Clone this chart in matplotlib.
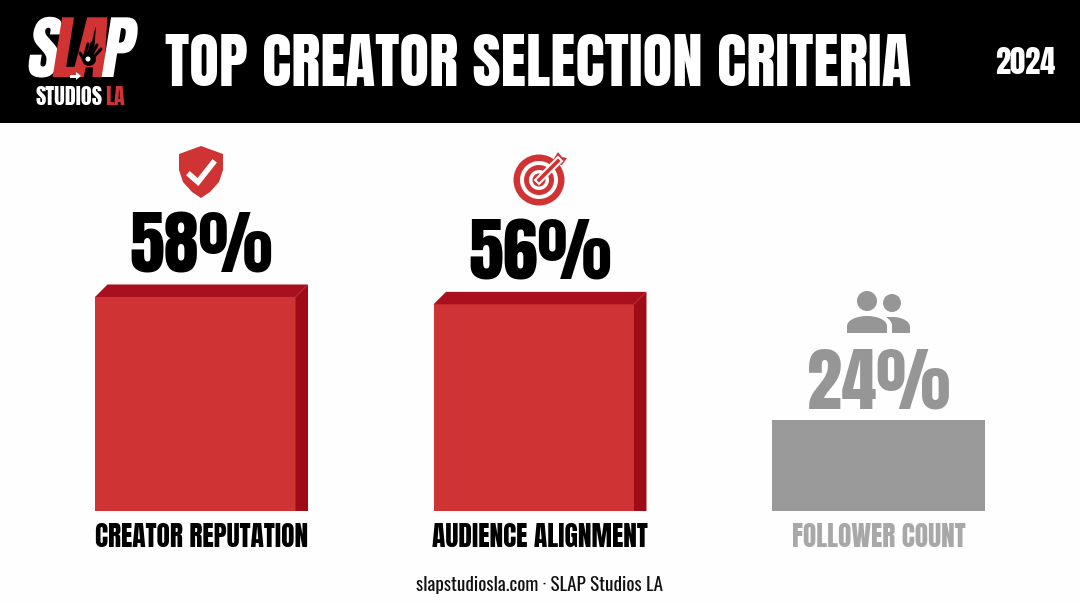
import matplotlib
matplotlib.use('Agg')
import matplotlib.pyplot as plt
import matplotlib.patheffects as pe
from matplotlib.patches import Polygon, Circle, Rectangle, PathPatch
from matplotlib.path import Path
from matplotlib.transforms import Affine2D

# Data
categories = ['CREATOR REPUTATION', 'AUDIENCE ALIGNMENT', 'FOLLOWER COUNT']
labels = ['58%', '56%', '24%']
bar_heights = [58, 56, 24.6]
highlighted = [True, True, False]

RED = '#CF3333'
TOP_RED = '#A90F1E'
SIDE_RED = '#9E0C18'
GREY = '#9A9A9A'
GREY_TEXT = '#A8A8A8'
NUM_GREY = '#969696'
HEAVY = ['Anton', 'DejaVu Sans']
LIGHT = ['Oswald', 'Antonio', 'DejaVu Sans']

W, H = 1080, 603


class Shear(pe.AbstractPathEffect):
    # slant for the logo letters, Anton has no italic
    def draw_path(self, renderer, gc, tpath, affine, rgbFace=None):
        renderer.draw_path(gc, tpath, Affine2D().skew_deg(9, 0) + affine, rgbFace)


fig = plt.figure(figsize=(W / 100, H / 100), dpi=100, facecolor='#FEFEFE')

# Overlay in pixel coordinates for header, icons and footer
bg = fig.add_axes([0, 0, 1, 1])
bg.set_xlim(0, W)
bg.set_ylim(H, 0)
bg.axis('off')

bg.add_patch(Rectangle((0, 0), W, 123, color='black', lw=0))
bg.text(538, 86, 'TOP CREATOR SELECTION CRITERIA', color='white', ha='center', va='baseline',
        fontsize=44, family=HEAVY)
bg.text(1025, 74, '2024', color='white', ha='center', va='baseline', fontsize=22, family=HEAVY)

# Logo
logo = [('S', 25, 'white'), ('L', 50, RED), ('A', 71, RED), ('P', 99, 'white')]
for ch, x, col in logo:
    bg.text(x, 77, ch, color=col, ha='left', va='baseline', fontsize=50, family=HEAVY,
            path_effects=[Shear()])
bg.add_patch(Polygon([[70, 75], [76, 75], [76, 72], [81, 76], [76, 80], [76, 78], [70, 78]],
                     color='white', lw=0, zorder=5))
# hand on the logo
bg.add_patch(Circle((89, 59), 7, color='black', lw=0, zorder=5))
for x0, y0, x1, y1 in [(84, 58, 88, 44), (88, 56, 92, 43), (91, 56, 97, 45), (93, 58, 101, 49), (84, 60, 80, 53)]:
    bg.plot([x0, x1], [y0, y1], color='black', lw=2.2, solid_capstyle='round', zorder=5)
bg.add_patch(Circle((88, 59), 2.5, color='white', lw=0, zorder=6))
bg.text(36, 105, 'STUDIOS', color='white', ha='left', va='baseline', fontsize=16, family=HEAVY)
bg.text(105, 105, 'LA', color=RED, ha='left', va='baseline', fontsize=16, family=HEAVY)

# Shield icon
bg.add_patch(Polygon([[201, 146], [223, 154], [223, 170], [219, 182], [210, 192], [201, 198],
                      [192, 192], [183, 182], [179, 170], [179, 154]], color=RED, lw=0))
bg.plot([190, 198, 213], [175, 182, 163], color='white', lw=4, solid_joinstyle='miter')

# Target icon
for r, col in [(25.5, RED), (19, 'white'), (15, RED), (10, 'white'), (6.5, RED)]:
    bg.add_patch(Circle((539, 180), r, color=col, lw=0))
bg.plot([539, 558], [180, 161], color='white', lw=5.5)
bg.plot([539, 558], [180, 161], color=RED, lw=2.6)
bg.add_patch(Polygon([[553, 160], [558, 152], [562, 157], [567, 158], [562, 165], [555, 164]], color=RED, lw=0))

# People icon
bg.add_patch(Circle((867, 301), 10, color=NUM_GREY, lw=0))
bg.add_patch(Circle((892, 303), 9, color=NUM_GREY, lw=0))
C, L, M = Path.CURVE4, Path.LINETO, Path.MOVETO
big = Path([(847, 333), (847, 326), (847, 320), (857, 316), (867, 316), (877, 316), (887, 320), (887, 326),
            (887, 333), (847, 333)], [M, L, C, C, C, C, C, C, L, L])
small = Path([(892, 333), (892, 325), (892, 322), (889, 319), (886, 317), (893, 317), (903, 317), (910, 322),
              (910, 327), (910, 333), (892, 333)], [M, L, C, C, C, L, C, C, C, L, L])
bg.add_patch(PathPatch(big, color=NUM_GREY, lw=0))
bg.add_patch(PathPatch(small, color=NUM_GREY, lw=0))

bg.text(540, 591, 'slapstudiosla.com · SLAP Studios LA', color='#111111', ha='center', va='baseline',
        fontsize=13.8, family=LIGHT)

# Bars, on real axes: 338.5 px per category, 3.69 px per percent
PX_X = 338.5
PX_Y = 3.69
ax = fig.add_axes([(201.5 - 0.5 * PX_X) / W, (H - 511) / H, 3 * PX_X / W, 388 / H])
ax.patch.set_alpha(0)
ax.set_xlim(-0.5, 2.5)
ax.set_ylim(0, 388 / PX_Y)
for s in ax.spines.values():
    s.set_visible(False)
ax.set_yticks([])

bar_w = 213 / PX_X
depth = 12.5
dx = depth / PX_X
dy = depth / PX_Y
for i, (h, lab, hot) in enumerate(zip(bar_heights, labels, highlighted)):
    left = i - bar_w / 2
    if hot:
        front_w = bar_w - dx
        ax.bar(left, h, width=front_w, align='edge', color=RED, lw=0)
        ax.add_patch(Polygon([[left, h], [left + dx, h + dy], [left + bar_w, h + dy], [left + front_w, h]],
                             color=TOP_RED, lw=0))
        ax.add_patch(Polygon([[left + front_w, 0], [left + bar_w, 0], [left + bar_w, h + dy],
                              [left + front_w, h]], color=SIDE_RED, lw=0))
        top = h + dy
        col = 'black'
    else:
        ax.bar(left, h, width=bar_w, align='edge', color=GREY, lw=0)
        top = h
        col = NUM_GREY
    ax.annotate(lab, (i, top), xytext=(0, 8.6), textcoords='offset points', ha='center', va='baseline',
                color=col, fontsize=50.5, family=HEAVY)

ax.set_xticks(range(len(categories)))
ax.set_xticklabels(categories, fontsize=19.8, family=HEAVY)
ax.tick_params(axis='x', length=0, pad=8.5)
for tick, hot in zip(ax.get_xticklabels(), highlighted):
    tick.set_color('black' if hot else GREY_TEXT)

fig.savefig('out.png', dpi=100, facecolor=fig.get_facecolor())
plt.close(fig)
